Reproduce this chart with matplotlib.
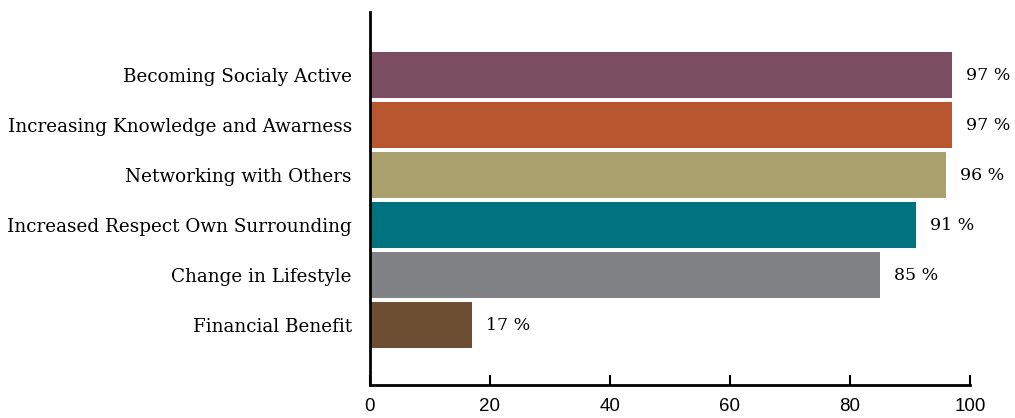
import matplotlib.pyplot as plt

# data
categories = ["Becoming Socialy Active", "Increasing Knowledge and Awarness",
              "Networking with Others", "Increased Respect Own Surrounding",
              "Change in Lifestyle", "Financial Benefit"]
values = [97, 97, 96, 91, 85, 17]
colors = ["#7B4D60", "#B8562F", "#ABA16E", "#00737E", "#808285", "#6E4E32"]
ticks = [0, 20, 40, 60, 80, 100]

fig = plt.figure(figsize=(10.15, 4.18), dpi=100)
ax = fig.add_axes([0.3645, 0.0789, 0.5911, 0.8924])

pos = list(range(len(categories)))
ax.barh(pos, values, height=0.92, color=colors)

for p, v in zip(pos, values):
    ax.annotate(f"{v} %", (v, p), xytext=(10, 0), textcoords="offset points",
                va="center", ha="left", fontsize=12.5, family="DejaVu Serif")

ax.set_yticks(pos)
ax.set_yticklabels(categories, family="DejaVu Serif", fontsize=13.2)
ax.tick_params(axis="y", length=0, pad=13)
ax.set_xticks(ticks)
ax.set_xticklabels([str(t) for t in ticks], family="Liberation Sans", fontsize=13.5)
ax.tick_params(axis="x", direction="in", length=7, width=1.5, pad=9)

ax.set_xlim(0, 100)
ax.set_ylim(6.2, -1.26)
ax.spines["top"].set_visible(False)
ax.spines["right"].set_visible(False)
ax.spines["left"].set_linewidth(2)
ax.spines["bottom"].set_linewidth(2)

fig.savefig("out.png", dpi=100)
